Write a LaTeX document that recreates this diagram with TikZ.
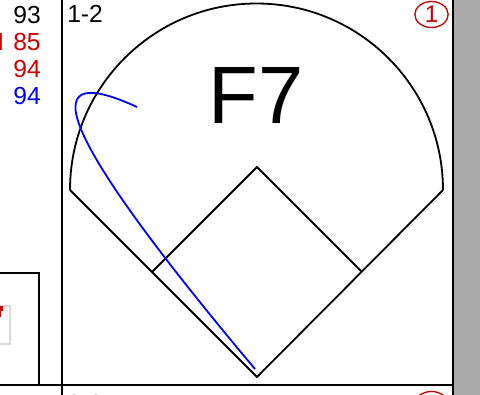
\documentclass[tikz,border=0pt]{standalone}
\usepackage{fontspec}
\setmainfont{Liberation Sans}
\usepackage{xcolor}
\usetikzlibrary{shapes.geometric}
\definecolor{cardred}{HTML}{CC0000}
\definecolor{cardblue}{HTML}{0000FF}
\definecolor{cardgray}{HTML}{AAAAAA}
\definecolor{boxgray}{HTML}{D9D9D9}
\tikzset{
  gridline/.style={draw=black,line width=1.6pt},
  fieldline/.style={draw=black,line width=1.35pt,line join=miter},
  hitpath/.style={draw=cardblue,line width=1.35pt},
  count/.style={font=\fontsize{18.5}{22}\selectfont,inner sep=0pt},
  pitchnum/.style={count,anchor=east},
  outmark/.style={ellipse,draw=cardred,line width=1pt,text=cardred,
    minimum width=25pt,minimum height=19.5pt,inner sep=0pt,
    font=\fontsize{18}{21}\selectfont}
}
\begin{document}
\begin{tikzpicture}[x=0.75pt,y=-0.75pt]
  \useasboundingbox (0,0) rectangle (480,395);
  % scorecard grid
  \fill[cardgray] (453,-10) rectangle (490,405);
  \draw[gridline] (62,-10) -- (62,405);
  \draw[gridline] (453,-10) -- (453,405);
  \draw[gridline] (-10,385) -- (453,385);
  \draw[gridline] (-10,273) -- (39,273) -- (39,385);
  \draw[boxgray,line width=1.1pt] (-10,306) -| (10,344) -- (-10,344);
  \fill[cardred] (-5,306) rectangle (3,311);
  \fill[cardred] (-5,311) rectangle (1.5,317);
  % pitch info
  \node[pitchnum] (pitches) at (41,15) {93};
  \node[pitchnum,text=cardred] (velone) at (41,42) {H\hspace{7pt}85};
  \node[pitchnum,text=cardred] (veltwo) at (41,69.5) {94};
  \node[pitchnum,text=cardblue] (velthree) at (41,96) {94};
  % field
  \coordinate (home) at (257,377);
  \coordinate (first) at (362,272);
  \coordinate (second) at (257,167);
  \coordinate (third) at (152,272);
  \coordinate (leftpole) at (70,190);
  \coordinate (rightpole) at (443,190);
  \draw[fieldline] (leftpole) -- (home) -- (rightpole);
  \draw[fieldline] (leftpole) arc[start angle=180,end angle=360,radius=186.5];
  \draw[fieldline] (third) -- (second) -- (first);
  % batted ball
  \coordinate (ballstart) at (255,369);
  \coordinate (ballend) at (137,107);
  \draw[hitpath] (ballstart) .. controls (65,143) and (26,56) .. (ballend);
  % labels
  \node[count,anchor=west] (count) at (67,14) {1-2};
  \node[count,anchor=west] (countnext) at (67,404) {2-2};
  \node[font=\fontsize{61}{70}\selectfont,inner sep=0pt] (play) at (256,96) {F7};
  \node[outmark] (out) at (431.5,14.5) {1};
  \node[outmark] (outnext) at (431.5,404.5) {};
\end{tikzpicture}
\end{document}
